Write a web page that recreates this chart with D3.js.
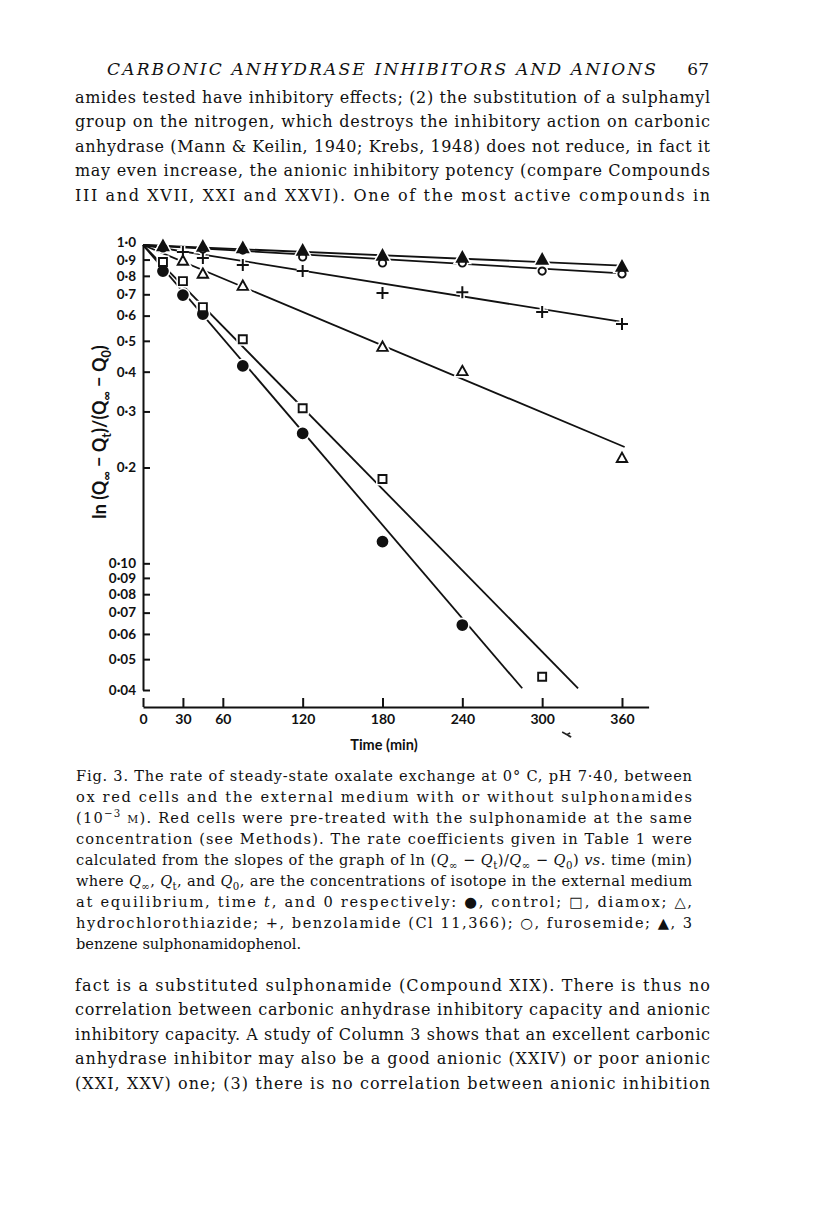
<!DOCTYPE html>
<html><head><meta charset="utf-8">
<script src="https://cdn.jsdelivr.net/npm/d3@7"></script>
<style>body{margin:0;background:#fff} svg{display:block}</style>
</head><body>
<svg id="c" width="816" height="1221"></svg>
<script>
// ---------------- data ----------------
const yTicks = [1.0, 0.9, 0.8, 0.7, 0.6, 0.5, 0.4, 0.3, 0.2, 0.10, 0.09, 0.08, 0.07, 0.06, 0.05, 0.04];
const yTickLabels = ["1·0","0·9","0·8","0·7","0·6","0·5","0·4","0·3","0·2","0·10","0·09","0·08","0·07","0·06","0·05","0·04"];
const xTicks = [0, 30, 60, 120, 180, 240, 300, 360];

const seriesNames = ["control", "diamox", "hydrochlorothiazide", "benzolamide", "furosemide", "3 benzene sulphonamidophenol"];
const seriesShapes = ["disc", "square", "triangle", "plus", "circle", "filledTriangle"];

const controlT = [15, 30, 45, 75, 120, 180, 240];
const controlV = [0.828, 0.696, 0.607, 0.417, 0.256, 0.117, 0.064];
const diamoxT = [15, 30, 45, 75, 120, 180, 300];
const diamoxV = [0.884, 0.770, 0.638, 0.506, 0.307, 0.184, 0.044];
const hydroT = [30, 45, 75, 180, 240, 360];
const hydroV = [0.891, 0.811, 0.743, 0.478, 0.401, 0.214];
const benzT = [30, 45, 75, 120, 180, 240, 300, 360];
const benzV = [0.950, 0.910, 0.865, 0.828, 0.707, 0.711, 0.616, 0.565];
const furoT = [15, 45, 75, 120, 180, 240, 300, 360];
const furoV = [0.979, 0.971, 0.964, 0.917, 0.878, 0.878, 0.828, 0.811];
const phenolT = [15, 45, 75, 120, 180, 240, 300, 360];
const phenolV = [0.990, 0.985, 0.975, 0.957, 0.923, 0.910, 0.897, 0.853];

// fitted straight lines (log scale): start at (0, 1.0), end at (fitEndT, fitEndV)
const fitStartT = [0, 0, 0, 0, 0, 0];
const fitStartV = [1.0, 1.0, 1.0, 1.0, 1.0, 1.0];
const fitEndT = [285, 327, 362, 360, 360, 360];
const fitEndV = [0.0405, 0.0405, 0.232, 0.573, 0.815, 0.862];

const seriesT = [controlT, diamoxT, hydroT, benzT, furoT, phenolT];
const seriesV = [controlV, diamoxV, hydroV, benzV, furoV, phenolV];

// ---------------- drawing ----------------
const svg = d3.select("#c");
const serif = "'DejaVu Serif', 'Liberation Serif', serif";
const sans = "Lato, 'Open Sans', 'DejaVu Sans', sans-serif";

function rich(x, y, segs, opts = {}) {
  const size = opts.size || 18;
  const t = svg.append("text").attr("x", x).attr("y", y)
    .attr("font-family", opts.family || serif)
    .attr("font-size", size)
    .attr("fill", "#111");
  if (opts.italic) t.attr("font-style", "italic");
  if (opts.weight) t.attr("font-weight", opts.weight);
  if (opts.anchor) t.attr("text-anchor", opts.anchor);
  if (opts.transform) t.attr("transform", opts.transform);
  let off = 0;
  segs.forEach(s => {
    if (typeof s === "string") s = { t: s };
    let target = 0;
    if (s.sub) target = 0.3 * size;
    if (s.sup) target = -0.38 * size;
    const sp = t.append("tspan").text(s.t);
    if (target !== off) { sp.attr("dy", target - off); off = target; }
    if (s.i) sp.attr("font-style", "italic");
    if (s.sub || s.sup) sp.attr("font-size", size * 0.7);
    if (s.small) sp.attr("font-size", size * 0.74);
  });
  if (opts.width) t.attr("textLength", opts.width).attr("lengthAdjust", "spacing");
  return t;
}

// header
rich(107, 75, ["CARBONIC ANHYDRASE INHIBITORS AND ANIONS"], { italic: true, size: 17, width: 549 });
rich(709, 75, ["67"], { size: 17, anchor: "end" });

// top paragraph
const topLines = [
  "amides tested have inhibitory effects; (2) the substitution of a sulphamyl",
  "group on the nitrogen, which destroys the inhibitory action on carbonic",
  "anhydrase (Mann & Keilin, 1940; Krebs, 1948) does not reduce, in fact it",
  "may even increase, the anionic inhibitory potency (compare Compounds",
  "III and XVII, XXI and XXVI). One of the most active compounds in"
];
topLines.forEach((l, i) => rich(75, 103 + i * 24.4, [l], { size: 16, width: 635 }));

// bottom paragraph
const botLines = [
  "fact is a substituted sulphonamide (Compound XIX). There is thus no",
  "correlation between carbonic anhydrase inhibitory capacity and anionic",
  "inhibitory capacity. A study of Column 3 shows that an excellent carbonic",
  "anhydrase inhibitor may also be a good anionic (XXIV) or poor anionic",
  "(XXI, XXV) one; (3) there is no correlation between anionic inhibition"
];
botLines.forEach((l, i) => rich(75, 991 + i * 24.4, [l], { size: 16, width: 635 }));

// caption
const capLines = [
  ["Fig. 3. The rate of steady-state oxalate exchange at 0° C, pH 7·40, between"],
  ["ox red cells and the external medium with or without sulphonamides"],
  ["(10", { t: "−3", sup: true }, " ", { t: "M", small: true }, "). Red cells were pre-treated with the sulphonamide at the same"],
  ["concentration (see Methods). The rate coefficients given in Table 1 were"],
  ["calculated from the slopes of the graph of ln (", { t: "Q", i: true }, { t: "∞", sub: true }, " − ", { t: "Q", i: true }, { t: "t", sub: true }, ")/", { t: "Q", i: true }, { t: "∞", sub: true }, " − ", { t: "Q", i: true }, { t: "0", sub: true }, ") ", { t: "vs", i: true }, ". time (min)"],
  ["where ", { t: "Q", i: true }, { t: "∞", sub: true }, ", ", { t: "Q", i: true }, { t: "t", sub: true }, ", and ", { t: "Q", i: true }, { t: "0", sub: true }, ", are the concentrations of isotope in the external medium"],
  ["at equilibrium, time ", { t: "t", i: true }, ", and 0 respectively: ●, control; □, diamox; △,"],
  ["hydrochlorothiazide; +, benzolamide (Cl 11,366); ○, furosemide; ▲, 3"],
  ["benzene sulphonamidophenol."]
];
capLines.forEach((l, i) => rich(76, 781 + i * 21, l, { size: 14.6, width: i < capLines.length - 1 ? 616 : null }));

// ---------------- chart ----------------
const x = d3.scaleLinear().domain([0, 380]).range([143, 648.6]);
const y = d3.scaleLog().domain([0.04, 1.0]).range([690, 245]);

const chart = svg.append("g");

// y axis
const yAxis = d3.axisLeft(y).tickValues(yTicks)
  .tickFormat((d, i) => yTickLabels[i]).tickSizeInner(-7).tickSizeOuter(0).tickPadding(7);
const gy = chart.append("g").attr("transform", "translate(143,0)").call(yAxis);
gy.selectAll("path,line").attr("stroke", "#111").attr("stroke-width", 2);
gy.selectAll("text").attr("font-family", sans).attr("font-size", 13.5).attr("font-weight", 700).attr("fill", "#111");
gy.selectAll(".tick text").filter(d => d === 1.0).attr("y", -3);
gy.selectAll(".tick text").filter(d => d === 0.9).attr("y", 1);

// x axis
const xAxis = d3.axisBottom(x).tickValues(xTicks).tickSizeInner(-9).tickSizeOuter(0).tickPadding(7);
const gx = chart.append("g").attr("transform", "translate(0,707)").call(xAxis);
gx.selectAll("path,line").attr("stroke", "#111").attr("stroke-width", 2);
gx.selectAll("text").attr("font-family", sans).attr("font-size", 14).attr("font-weight", 700).attr("fill", "#111");

// axis titles
chart.append("text").attr("x", 384).attr("y", 750).attr("text-anchor", "middle")
  .attr("font-family", sans).attr("font-size", 14.5).attr("font-weight", 700).attr("fill", "#111")
  .text("Time (min)");

rich(0, 0, ["ln (Q", { t: "∞", sub: true }, " − Q", { t: "t", sub: true }, ")/(Q", { t: "∞", sub: true }, " − Q", { t: "0", sub: true }, ")"],
  { family: sans, size: 18, weight: 700, anchor: "middle", transform: "translate(106,432) rotate(-90)" });

// fitted lines
const line = d3.line().x(d => x(d[0])).y(d => y(d[1]));
seriesNames.forEach((n, i) => {
  chart.append("path")
    .attr("d", line([[fitStartT[i], fitStartV[i]], [fitEndT[i], fitEndV[i]]]))
    .attr("fill", "none").attr("stroke", "#111").attr("stroke-width", 1.8);
});

// markers
function markerPath(shape) {
  switch (shape) {
    case "disc": return d3.symbol(d3.symbolCircle, 76)();
    case "circle": return d3.symbol(d3.symbolCircle, 42)();
    case "square": return "M-4,-4H4V4H-4Z";
    case "triangle": return "M0,-5.5L5.2,3.8H-5.2Z";
    case "filledTriangle": return "M0,-6L5.4,3.8H-5.4Z";
    case "plus": return "M-6,0H6M0,-6V6";
  }
}
const pts = [];
seriesNames.forEach((n, i) => seriesT[i].forEach((t, j) => pts.push({ s: i, t, v: seriesV[i][j] })));

const mk = chart.append("g");
mk.selectAll(".halo").data(pts).join("path")
  .attr("transform", d => `translate(${x(d.t)},${y(d.v)})`)
  .attr("d", d => markerPath(seriesShapes[d.s]))
  .attr("fill", d => seriesShapes[d.s] === "plus" ? "none" : "#fff")
  .attr("stroke", "#fff").attr("stroke-width", 5);
mk.selectAll(".m").data(pts).join("path")
  .attr("transform", d => `translate(${x(d.t)},${y(d.v)})`)
  .attr("d", d => markerPath(seriesShapes[d.s]))
  .attr("fill", d => (seriesShapes[d.s] === "disc" || seriesShapes[d.s] === "filledTriangle") ? "#111" : "#fff")
  .attr("stroke", "#111").attr("stroke-width", d => seriesShapes[d.s] === "plus" ? 2 : 1.9);

// small stray mark below the 300 tick (as in the printed figure)
chart.append("path")
  .attr("d", `M${x(300) + 20},${732} l9,5 l-3,-1 M${x(300) + 24},${735} l4,-2`)
  .attr("stroke", "#222").attr("stroke-width", 1.6).attr("fill", "none");
</script>
</body></html>
